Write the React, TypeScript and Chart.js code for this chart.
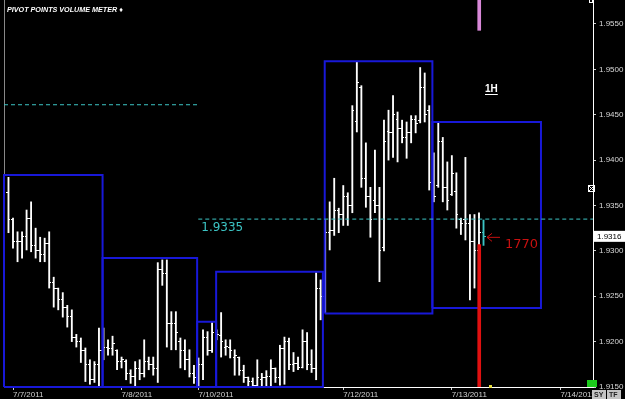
import React, { useEffect, useRef } from 'react';
import { Chart, registerables } from 'chart.js';

Chart.register(...registerables);

// ---- OHLC (hourly bars) ----
const opens = [
  1.9364,1.9335,1.9310,1.9310,1.9316,1.9336,1.9306,1.9300,1.9296,1.9308,
  1.9265,1.9258,1.9246,1.9238,1.9228,1.9205,1.9200,1.9190,1.9175,1.9158,
  1.9175,1.9190,1.9194,1.9192,1.9190,1.9178,1.9178,1.9165,1.9162,1.9170,
  1.9165,1.9178,1.9175,1.9170,1.9280,1.9275,1.9220,1.9220,1.9200,1.9190,
  1.9180,1.9165,1.9160,1.9175,1.9205,1.9190,1.9210,1.9207,1.9194,1.9194,
  1.9182,1.9182,1.9168,1.9160,1.9156,1.9152,1.9158,1.9160,1.9162,1.9170,
  1.9160,1.9192,1.9200,1.9175,1.9176,1.9172,1.9200,1.9175,1.9170,1.9258,
  1.9250,1.9320,1.9322,1.9345,1.9340,1.9360,1.9350,1.9442,1.9480,1.9380,
  1.9360,1.9355,1.9350,1.9304,1.9432,1.9430,1.9445,1.9435,1.9425,1.9430,
  1.9445,1.9444,1.9480,1.9455,1.9375,1.9372,1.9420,1.9370,1.9362,1.9365,
  1.9335,1.9335,1.9330,1.9310,1.9300,1.9320,
];
const highs = [
  1.9381,1.9336,1.9321,1.9321,1.9345,1.9354,1.9325,1.9315,1.9314,1.9321,
  1.9271,1.9259,1.9254,1.9240,1.9235,1.9208,1.9204,1.9193,1.9180,1.9178,
  1.9215,1.9215,1.9202,1.9206,1.9191,1.9183,1.9180,1.9169,1.9178,1.9180,
  1.9202,1.9183,1.9183,1.9287,1.9290,1.9290,1.9233,1.9233,1.9204,1.9202,
  1.9191,1.9174,1.9182,1.9213,1.9211,1.9221,1.9213,1.9232,1.9202,1.9202,
  1.9191,1.9183,1.9174,1.9161,1.9160,1.9180,1.9165,1.9168,1.9180,1.9171,
  1.9196,1.9205,1.9204,1.9188,1.9183,1.9213,1.9210,1.9191,1.9276,1.9268,
  1.9334,1.9354,1.9380,1.9347,1.9372,1.9364,1.9460,1.9508,1.9482,1.9419,
  1.9370,1.9411,1.9370,1.9444,1.9455,1.9471,1.9453,1.9444,1.9442,1.9449,
  1.9449,1.9502,1.9496,1.9460,1.9408,1.9441,1.9425,1.9398,1.9405,1.9386,
  1.9336,1.9403,1.9340,1.9340,1.9342,1.9334,
];
const lows = [
  1.9320,1.9303,1.9288,1.9292,1.9301,1.9299,1.9292,1.9288,1.9288,1.9259,
  1.9238,1.9235,1.9227,1.9216,1.9200,1.9194,1.9177,1.9156,1.9153,1.9155,
  1.9150,1.9180,1.9185,1.9185,1.9169,1.9171,1.9158,1.9154,1.9150,1.9158,
  1.9161,1.9169,1.9163,1.9155,1.9262,1.9194,1.9191,1.9191,1.9171,1.9169,
  1.9161,1.9154,1.9150,1.9158,1.9185,1.9188,1.9202,1.9183,1.9185,1.9182,
  1.9163,1.9163,1.9155,1.9150,1.9150,1.9150,1.9150,1.9150,1.9150,1.9155,
  1.9152,1.9153,1.9169,1.9167,1.9169,1.9171,1.9169,1.9166,1.9158,1.9224,
  1.9232,1.9301,1.9317,1.9320,1.9328,1.9328,1.9342,1.9431,1.9370,1.9348,
  1.9315,1.9342,1.9266,1.9300,1.9400,1.9403,1.9398,1.9419,1.9402,1.9419,
  1.9430,1.9441,1.9442,1.9367,1.9354,1.9370,1.9354,1.9345,1.9361,1.9325,
  1.9318,1.9312,1.9246,1.9259,1.9283,1.9306,
];
const closes = [
  1.9335,1.9310,1.9310,1.9316,1.9336,1.9306,1.9300,1.9296,1.9308,1.9265,
  1.9258,1.9246,1.9238,1.9228,1.9205,1.9200,1.9190,1.9175,1.9158,1.9175,
  1.9190,1.9194,1.9192,1.9198,1.9178,1.9180,1.9165,1.9162,1.9170,1.9165,
  1.9178,1.9175,1.9170,1.9280,1.9275,1.9220,1.9220,1.9210,1.9190,1.9180,
  1.9165,1.9160,1.9175,1.9205,1.9190,1.9210,1.9208,1.9200,1.9195,1.9190,
  1.9185,1.9168,1.9160,1.9156,1.9152,1.9160,1.9160,1.9162,1.9170,1.9160,
  1.9192,1.9200,1.9175,1.9176,1.9172,1.9200,1.9175,1.9170,1.9258,1.9250,
  1.9320,1.9322,1.9345,1.9340,1.9360,1.9350,1.9455,1.9485,1.9380,1.9360,
  1.9335,1.9350,1.9300,1.9420,1.9430,1.9450,1.9435,1.9425,1.9430,1.9445,
  1.9440,1.9480,1.9450,1.9375,1.9360,1.9420,1.9370,1.9355,1.9385,1.9340,
  1.9330,1.9330,1.9310,1.9300,1.9320,1.9316,
];

// ---- axes ----
const dateTickIdx = [1, 25, 42, 74, 98, 122];
const dateTickLabels = ['7/7/2011', '7/8/2011', '7/10/2011', '7/12/2011', '7/13/2011', '7/14/2011'];
const priceTicks = [1.915, 1.92, 1.925, 1.93, 1.935, 1.94, 1.945, 1.95, 1.955];
const X_MIN = -0.99;
const X_MAX = 129.2;
const Y_MIN = 1.915;
const Y_MAX = 1.95764;

// ---- pivot volume boxes ----
const boxStart = [-0.99, 20.8, 41.7, 45.9, 69.9, 93.7];
const boxEnd = [20.8, 41.7, 45.9, 69.5, 93.7, 117.7];
const boxTop = [1.93835, 1.9292, 1.9222, 1.9277, 1.9509, 1.9442];
const boxBottom = [1.915, 1.915, 1.915, 1.915, 1.9231, 1.9237];

// ---- pivot levels (dashed) ----
const pivotLevels = [1.9461, 1.9335];
const pivotFrom = [-0.99, 41.95];
const pivotTo = [41.95, 129.2];

// ---- session marker ----
const markerIdx = 104.05;
const markerPink = [1.9543, Y_MAX];
const markerRed = [Y_MIN, 1.9307];
const volumeText = '1770';
const timeframeText = '1H';
const titleText = 'PIVOT POINTS VOLUME METER \u2666';

const WHITE = '#ffffff';
const CYAN = '#3cc4c4';

function tickImg(color: string, side: 'L' | 'R') {
  const c = document.createElement('canvas');
  c.width = 4;
  c.height = 1;
  const g = c.getContext('2d')!;
  g.fillStyle = color;
  g.fillRect(side === 'L' ? 0 : 2, 0, 2, 1);
  return c;
}

const fixTopPlugin = {
  id: 'fixTop',
  afterLayout(chart: any) {
    const ca = chart.chartArea;
    const y = chart.scales.y;
    ca.top = 0;
    ca.height = ca.bottom - ca.top;
    y.top = 0;
    y.height = y.bottom - y.top;
    y.configure();
  },
};

const annotPlugin = {
  id: 'annot',
  afterDraw(chart: any) {
    const { ctx } = chart;
    const xs = chart.scales.x;
    const ys = chart.scales.y;
    ctx.save();
    ctx.fillStyle = '#ffffff';
    ctx.textAlign = 'left';
    ctx.textBaseline = 'alphabetic';
    ctx.font = 'italic bold 7.2px "Liberation Sans", Arial, sans-serif';
    ctx.fillText(titleText, 7, 12);

    ctx.fillStyle = CYAN;
    ctx.font = '12px "DejaVu Sans", sans-serif';
    ctx.fillText(pivotLevels[1].toFixed(4), xs.getPixelForValue(pivotFrom[1]) + 3, ys.getPixelForValue(pivotLevels[1]) + 12);

    ctx.fillStyle = '#ffffff';
    ctx.font = 'bold 10px "Liberation Sans", Arial, sans-serif';
    ctx.fillText(timeframeText, 485, 92);
    const w1 = ctx.measureText(timeframeText).width;
    ctx.fillRect(485, 94, w1, 1);

    const lastIdx = closes.length - 1;
    const ay = ys.getPixelForValue(closes[lastIdx]) + 1;
    ctx.strokeStyle = '#c81010';
    ctx.lineWidth = 1;
    ctx.beginPath();
    ctx.moveTo(500, ay);
    ctx.lineTo(487, ay);
    ctx.moveTo(492, ay - 4);
    ctx.lineTo(487, ay);
    ctx.lineTo(492, ay + 4);
    ctx.stroke();
    ctx.fillStyle = '#c81010';
    ctx.font = '13px "DejaVu Sans", sans-serif';
    ctx.fillText(volumeText, 505, ay + 11);

    const py = ys.getPixelForValue(closes[lastIdx]);
    ctx.fillStyle = '#ffffff';
    ctx.fillRect(594, py - 5.5, 31, 11);
    ctx.fillStyle = '#000000';
    ctx.font = '8px "Liberation Sans", Arial, sans-serif';
    ctx.textBaseline = 'middle';
    ctx.fillText(closes[lastIdx].toFixed(4), 597, py + 0.5);

    ctx.strokeStyle = '#ffffff';
    ctx.lineWidth = 1;
    ctx.strokeRect(588.5, 185.5, 6, 6);
    ctx.beginPath();
    ctx.moveTo(589, 186); ctx.lineTo(594, 191);
    ctx.moveTo(594, 186); ctx.lineTo(589, 191);
    ctx.stroke();
    ctx.strokeRect(589.5, -0.5, 3, 3);

    ctx.fillStyle = '#1ccc1c';
    ctx.fillRect(587, 380, 10, 7);
    ctx.fillStyle = '#e8e040';
    ctx.fillRect(489, 385, 3, 3);

    ctx.fillStyle = '#c4c4c4';
    ctx.fillRect(592, 390, 14, 9);
    ctx.fillRect(607, 390, 14, 9);
    ctx.fillStyle = '#222';
    ctx.font = 'bold 7px "Liberation Sans", Arial, sans-serif';
    ctx.textBaseline = 'middle';
    ctx.fillText('SY', 594, 395);
    ctx.fillText('TF', 609, 395);
    ctx.restore();
  },
};

export default function App() {
  const ref = useRef<HTMLCanvasElement | null>(null);
  useEffect(() => {
    document.body.style.margin = '0';
    document.body.style.background = '#000';
    const canvas = ref.current!;
    const last = closes.length - 1;
    const tL = tickImg(WHITE, 'L');
    const tR = tickImg(WHITE, 'R');
    const cL = tickImg(CYAN, 'L');
    const cR = tickImg(CYAN, 'R');
    const colorAt = (i: number) => (i === last ? CYAN : WHITE);

    const overlay: any[] = [];
    boxStart.forEach((s, k) => {
      overlay.push({
        type: 'line',
        data: [
          { x: s, y: boxBottom[k] },
          { x: s, y: boxTop[k] },
          { x: boxEnd[k], y: boxTop[k] },
          { x: boxEnd[k], y: boxBottom[k] },
          { x: s, y: boxBottom[k] },
        ],
        borderColor: '#1818d8',
        borderWidth: 2,
        pointRadius: 0,
        fill: false,
        tension: 0,
        clip: false,
        order: 1,
      });
    });
    pivotLevels.forEach((lv, k) => {
      overlay.push({
        type: 'line',
        data: [
          { x: pivotFrom[k], y: lv },
          { x: pivotTo[k], y: lv },
        ],
        borderColor: CYAN,
        borderWidth: 1,
        borderDash: [4, 3],
        pointRadius: 0,
        fill: false,
        order: 0,
      });
    });
    overlay.push({
      type: 'bar',
      data: [
        { x: markerIdx, y: markerPink },
      ],
      backgroundColor: '#d888d8',
      barThickness: 3,
      grouped: false,
      borderWidth: 0,
      order: 0,
    });
    overlay.push({
      type: 'bar',
      data: [
        { x: markerIdx, y: markerRed },
      ],
      backgroundColor: '#e01010',
      barThickness: 3,
      grouped: false,
      borderWidth: 0,
      order: 0,
    });
    overlay.push({
      type: 'line',
      data: [
        { x: X_MIN + 0.11, y: Y_MIN },
        { x: X_MIN + 0.11, y: Y_MAX },
      ],
      borderColor: '#8a8a8a',
      borderWidth: 1,
      pointRadius: 0,
      order: 2,
    });

    const chart = new Chart(canvas, {
      type: 'bar',
      data: {
        datasets: [
          {
            type: 'bar',
            data: highs.map((h, i) => ({ x: i, y: [lows[i], h] })) as any,
            backgroundColor: highs.map((_, i) => colorAt(i)),
            borderWidth: 0,
            barThickness: 1.2,
            grouped: false,
            order: 10,
          } as any,
          {
            type: 'scatter',
            data: opens.map((o, i) => ({ x: i, y: o })),
            pointStyle: opens.map((_, i) => (i === last ? cL : tL)),
            pointRadius: 0.1,
            pointBorderWidth: 0,
            order: 9,
          } as any,
          {
            type: 'scatter',
            data: closes.map((c, i) => ({ x: i, y: c })),
            pointStyle: closes.map((_, i) => (i === last ? cR : tR)),
            pointRadius: 0.1,
            pointBorderWidth: 0,
            order: 9,
          } as any,
          ...overlay,
        ],
      },
      options: {
        animation: false,
        responsive: true,
        maintainAspectRatio: false,
        devicePixelRatio: 1,
        layout: { padding: { left: 2, right: 0, top: 0, bottom: 0 } },
        plugins: { legend: { display: false }, tooltip: { enabled: false } },
        scales: {
          x: {
            type: 'linear',
            min: X_MIN,
            max: X_MAX,
            offset: false,
            afterBuildTicks: (s: any) => {
              s.ticks = dateTickIdx.map((v) => ({ value: v }));
            },
            afterFit: (s: any) => {
              s.height = 12;
              s.paddingLeft = 0;
              s.paddingRight = 0;
            },
            ticks: {
              autoSkip: false,
              maxRotation: 0,
              align: 'start',
              padding: 0,
              color: '#d0d0d0',
              font: { family: '"Liberation Sans Narrow", "Liberation Sans", Arial', size: 8 },
              callback: (v: any) => {
                const k = dateTickIdx.indexOf(Number(v));
                return k >= 0 ? dateTickLabels[k] : '';
              },
            },
            grid: { display: true, drawOnChartArea: false, drawTicks: true, tickLength: 3, tickColor: '#cfcfcf', offset: false },
            border: { display: true, color: '#ffffff', width: 1 },
          },
          y: {
            type: 'linear',
            position: 'right',
            min: Y_MIN,
            max: Y_MAX,
            afterBuildTicks: (s: any) => {
              s.ticks = priceTicks.map((v) => ({ value: v }));
            },
            afterFit: (s: any) => {
              s.width = 32;
              s.paddingTop = 0;
              s.paddingBottom = 0;
            },
            ticks: {
              color: '#d8d8d8',
              padding: 3,
              font: { family: '"Liberation Sans Narrow", "Liberation Sans", Arial', size: 8 },
              callback: (v: any) => Number(v).toFixed(4),
            },
            grid: { display: true, drawOnChartArea: false, drawTicks: true, tickLength: 3, tickColor: '#cfcfcf' },
            border: { display: true, color: '#ffffff', width: 1 },
          },
        },
      } as any,
      plugins: [fixTopPlugin, annotPlugin],
    });
    return () => chart.destroy();
  }, []);

  return (
    <div style={{ position: 'relative', width: 625, height: 399, background: '#000' }}>
      <canvas ref={ref} />
    </div>
  );
}
